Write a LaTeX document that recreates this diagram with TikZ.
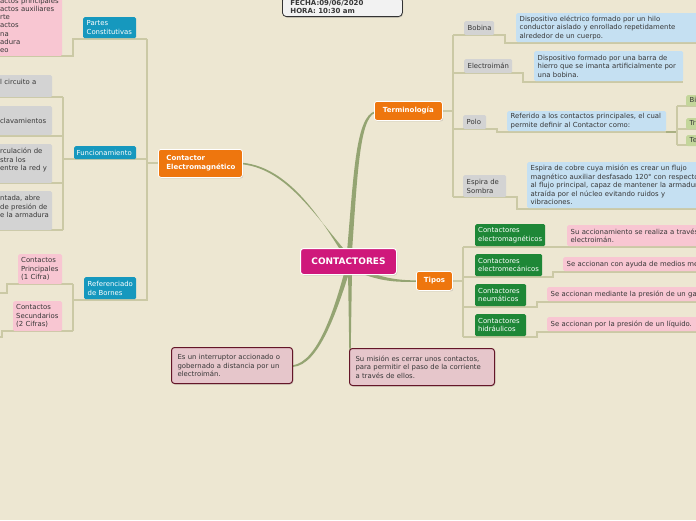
\documentclass[tikz,border=0pt]{standalone}
\usepackage{fontspec}
\setmainfont{DejaVu Sans}
\usetikzlibrary{shadows}
\definecolor{bgc}{RGB}{237,231,210}
\definecolor{conn}{RGB}{148,164,114}
\definecolor{treec}{RGB}{203,201,165}
\definecolor{treed}{RGB}{170,176,130}
\definecolor{magc}{RGB}{207,24,123}
\definecolor{orangec}{RGB}{238,118,14}
\definecolor{tealc}{RGB}{22,152,190}
\definecolor{greyc}{RGB}{211,211,211}
\definecolor{lbluec}{RGB}{197,224,242}
\definecolor{pinkc}{RGB}{248,198,210}
\definecolor{greenc}{RGB}{30,135,55}
\definecolor{lgreenc}{RGB}{196,214,155}
\definecolor{notec}{RGB}{230,198,203}
\definecolor{notebd}{RGB}{100,22,40}
\definecolor{txtc}{RGB}{55,55,55}
\definecolor{datec}{RGB}{242,242,242}
\newcommand\fsz{\fontsize{6.9}{8.5}\selectfont}
\newcommand\fbz{\fontsize{7}{8.5}\selectfont\bfseries}
\begin{document}
\begin{tikzpicture}[x=1pt,y=-1pt,
  box/.style={anchor=north west, rounded corners=1.5pt, inner xsep=3.5pt, inner ysep=0pt, align=left, font=\fsz, text=txtc},
  greyb/.style={box, fill=greyc},
  blueb/.style={box, fill=lbluec},
  pinkb/.style={box, fill=pinkc},
  greenb/.style={box, fill=greenc, text=white},
  tealb/.style={box, fill=tealc, text=white},
  lgreenb/.style={box, fill=lgreenc},
  orangeb/.style={box, fill=orangec, text=white, font=\fbz, draw=white, line width=0.8pt, rounded corners=2.5pt, drop shadow={shadow xshift=0.8pt, shadow yshift=-1pt, opacity=0.3}},
  noteb/.style={box, fill=notec, draw=notebd, line width=1pt, rounded corners=3pt, text=txtc, drop shadow={shadow xshift=0.8pt, shadow yshift=-1pt, opacity=0.3}},
  tl/.style={draw=treec, line width=1.5pt}
]
\useasboundingbox (0,0) rectangle (696,520);
\clip (0,0) rectangle (696,520);
\fill[bgc] (0,0) rectangle (696,520);

% ---------- date box (clipped at top)
\node[box, anchor=south west, fill=datec, draw=black!80, line width=0.8pt, rounded corners=4pt, font=\fbz, inner xsep=8pt, inner ysep=3pt, text width=104pt, drop shadow={shadow xshift=0.8pt, shadow yshift=-1pt, opacity=0.3}] (date) at (282,17) {FECHA:09/06/2020\\HORA: 10:30 am};

% ---------- thick tapered connectors
\fill[conn] (341.5,252) .. controls (319,216) and (288,167.5) .. (243,162.8) -- (243,164.4) .. controls (287,169.5) and (316,217) .. (346.5,252) -- cycle;
\fill[conn] (347,252) .. controls (354,170) and (356,117) .. (375,111.2) -- (375,112.8) .. controls (360,119) and (357.5,171) .. (352,252) -- cycle;
\fill[conn] (362,269) .. controls (384,279) and (400,280.2) .. (417,280.4) -- (417,281.8) .. controls (400,282) and (384,282.5) .. (360,273) -- cycle;
\fill[conn] (345,270) .. controls (334,310) and (318,361) .. (293,365.3) -- (293,366.9) .. controls (319,365) and (337,311) .. (350,270) -- cycle;
\fill[conn] (348,270) -- (349.3,351) -- (350.7,351) -- (352,270) -- cycle;

% ---------- left tree lines
\draw[tl] (158,163) -- (147,163);
\draw[tl] (147,39) -- (147,300.7);
\draw[tl] (147,39) -- (73,39) -- (73,56) -- (0,56);
\draw[tl] (147,159) -- (63,159);
\draw[tl] (63,97) -- (63,230);
\draw[tl] (63,97) -- (0,97);
\draw[tl] (63,136) -- (0,136);
\draw[tl] (63,183) -- (0,183);
\draw[tl] (63,230) -- (0,230);
\draw[tl] (147,300) -- (73,300);
\draw[tl] (73,284) -- (73,331);
\draw[tl] (73,284) -- (7,284) -- (7,293) -- (0,293);
\draw[tl] (73,331) -- (2,331) -- (2,337) -- (0,337);

% ---------- right tree lines (Terminologia)
\draw[tl] (442,111) -- (453,111);
\draw[tl] (453,35) -- (453,197);
\draw[tl] (453,35) -- (505,35) -- (505,43) -- (696,43);
\draw[tl] (453,73) -- (523,73) -- (523,82) -- (683,82);
\draw[tl] (453,129) -- (497,129) -- (497,132) -- (666,132);
\draw[draw=treed, line width=2pt] (666,132) -- (677,132);
\draw[tl] (677,106) -- (677,145);
\draw[tl] (677,106) -- (696,106);
\draw[tl] (677,129) -- (696,129);
\draw[tl] (677,145) -- (696,145);
\draw[tl] (453,197) -- (517,197) -- (517,209) -- (696,209);

% ---------- right tree lines (Tipos)
\draw[tl] (452,281) -- (463,281);
\draw[tl] (463,247) -- (463,337);
\draw[tl] (463,247) -- (696,247);
\draw[tl] (463,277) -- (553,277) -- (553,272) -- (696,272);
\draw[tl] (463,307) -- (537,307) -- (537,302) -- (696,302);
\draw[tl] (463,337) -- (537,337) -- (537,332) -- (696,332);

% ---------- central and main nodes
\node[box, fill=magc, text=white, draw=white, line width=1pt, rounded corners=3pt, font=\fontsize{9}{10}\selectfont\bfseries, align=center, inner xsep=4pt, text width=88pt, minimum height=26pt, drop shadow={shadow xshift=0.8pt, shadow yshift=-1pt, opacity=0.3}] (root) at (300,248) {CONTACTORES};
\node[orangeb, inner xsep=8pt, text width=68pt, minimum height=28pt] (ce) at (158,149) {Contactor\\Electromagnético};
\node[orangeb, align=center, inner xsep=4pt, text width=60pt, minimum height=19pt] (term) at (374,101) {Terminología};
\node[orangeb, align=center, inner xsep=4pt, text width=28pt, minimum height=19pt] (tipos) at (416,271) {Tipos};

% ---------- notes
\node[noteb, inner xsep=6pt, text width=109pt, minimum height=36pt] (n1) at (171,347) {Es un interruptor accionado o\\gobernado a distancia por un\\electroimán.};
\node[noteb, inner xsep=6pt, text width=133pt, minimum height=37pt] (n2) at (349,348) {Su misión es cerrar unos contactos,\\para permitir el paso de la corriente\\a través de ellos.};

% ---------- left children
\node[tealb, text width=46pt, minimum height=21pt] (partes) at (83,17) {Partes\\Constitutivas};
\node[tealb, inner xsep=2.5pt, text width=57pt, minimum height=13pt] (func) at (74,146) {Funcionamiento};
\node[tealb, text width=45pt, minimum height=22pt] (ref) at (84,277) {Referenciado\\de Bornes};

\node[pinkb, anchor=south west, inner xsep=3pt, inner ysep=3pt, text width=59pt, font=\fontsize{6.9}{8.25}\selectfont] (partesd) at (-3,56) {actos principales\\actos auxiliares\\rte\\actos\\na\\adura\\eo};

\node[greyb, inner xsep=3pt, text width=49pt, minimum height=22pt] (f1) at (-3,75) {l circuito a\\\mbox{}};
\node[greyb, inner xsep=3pt, text width=49pt, minimum height=29pt] (f2) at (-3,106) {clavamientos};
\node[greyb, inner xsep=3pt, text width=49pt, minimum height=39pt] (f3) at (-3,144) {rculación de\\stra los\\entre la red y\\\mbox{}};
\node[greyb, inner xsep=3pt, text width=49pt, minimum height=39pt] (f4) at (-3,191) {ntada, abre\\de presión de\\e la armadura\\\mbox{}};

\node[pinkb, inner xsep=3pt, text width=38pt, minimum height=30pt] (cp) at (18,254) {Contactos\\Principales\\(1 Cifra)};
\node[pinkb, inner xsep=3pt, text width=43pt, minimum height=30pt] (cs) at (13,301) {Contactos\\Secundarios\\(2 Cifras)};

% ---------- Terminologia children
\node[greyb, text width=23pt, minimum height=14pt] (bob) at (464,21) {Bobina};
\node[blueb, text width=177pt, minimum height=29pt] (bobd) at (516,13) {Dispositivo eléctrico formado por un hilo\\conductor aislado y enrollado repetidamente\\alrededor de un cuerpo.};
\node[greyb, text width=41pt, minimum height=14pt] (elec) at (464,59) {Electroimán};
\node[blueb, text width=142pt, minimum height=30pt] (elecd) at (534,51) {Dispositivo formado por una barra de\\hierro que se imanta artificialmente por\\una bobina.};
\node[greyb, text width=16pt, minimum height=14pt] (polo) at (463,115) {Polo};
\node[blueb, text width=152pt, minimum height=20pt] (polod) at (507,111) {Referido a los contactos principales, el cual\\permite definir al Contactor como:};
\node[lgreenb, text width=40pt, minimum height=11pt] (bip) at (686,95) {Bipolar};
\node[lgreenb, text width=40pt, minimum height=11pt] (trip) at (686,118) {Tripolar};
\node[lgreenb, text width=40pt, minimum height=11pt] (tetra) at (686,135) {Tetrapolar};
\node[greyb, text width=36pt, minimum height=22pt] (esp) at (463,175) {Espira de\\Sombra};
\node[blueb, text width=190pt, minimum height=46pt] (espd) at (527,162) {Espira de cobre cuya misión es crear un flujo\\magnético auxiliar desfasado 120° con respecto\\al flujo principal, capaz de mantener la armadura\\atraída por el núcleo evitando ruidos y\\vibraciones.};

% ---------- Tipos children
\node[greenb, inner xsep=3pt, text width=64pt, minimum height=22pt] (t1) at (475,224) {Contactores\\electromagnéticos};
\node[pinkb, text width=160pt, minimum height=21pt] (t1d) at (567,225) {Su accionamiento se realiza a través de un\\electroimán.};
\node[greenb, inner xsep=3pt, text width=61pt, minimum height=22pt] (t2) at (475,254) {Contactores\\electromecánicos};
\node[pinkb, text width=160pt, minimum height=14pt] (t2d) at (563,257) {Se accionan con ayuda de medios mecánicos.};
\node[greenb, inner xsep=3pt, text width=45pt, minimum height=22pt] (t3) at (475,284) {Contactores\\neumáticos};
\node[pinkb, text width=170pt, minimum height=14pt] (t3d) at (547,287) {Se accionan mediante la presión de un gas.};
\node[greenb, inner xsep=3pt, text width=45pt, minimum height=22pt] (t4) at (475,314) {Contactores\\hidráulicos};
\node[pinkb, text width=170pt, minimum height=14pt] (t4d) at (547,317) {Se accionan por la presión de un líquido.};
\end{tikzpicture}
\end{document}
